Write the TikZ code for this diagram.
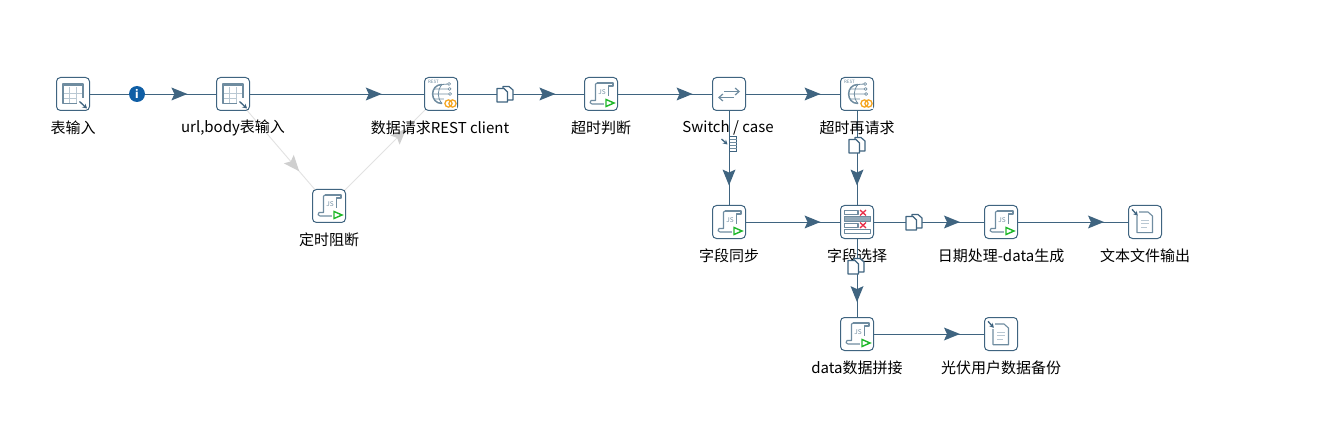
\documentclass[tikz,border=0pt]{standalone}
\usepackage{fontspec}
\setmainfont{Noto Sans CJK SC}
\usetikzlibrary{decorations.markings,arrows.meta}
\definecolor{hopc}{HTML}{3F6480}
\definecolor{iconc}{HTML}{6F8CA0}
\definecolor{gridc}{HTML}{B9C8D3}
\definecolor{greyhop}{HTML}{E2E2E2}
\definecolor{greyhead}{HTML}{CFCFCF}
\definecolor{infoc}{HTML}{0F5EA5}
\definecolor{jsgreen}{HTML}{1FB82A}
\definecolor{restorange}{HTML}{F5A623}
\definecolor{crossred}{HTML}{E8304A}
\pgfdeclarelayer{lines}
\pgfsetlayers{lines,main}
\tikzset{
  x=1pt,y=-1pt,
  stepbox/.style={draw=hopc,fill=white,line width=1pt,rounded corners=4pt,minimum size=33pt,inner sep=0pt,outer sep=0pt},
  steplabel/.style={font=\fontsize{15}{18}\selectfont,text=black,inner sep=0pt,anchor=center},
  hop/.style={draw=hopc,line width=.9pt,postaction={decorate,decoration={markings,mark=at position 0.715 with {\fill[hopc] (-16pt,-6.5pt)--(0pt,0pt)--(-16pt,6.5pt)--(-13pt,0pt)--cycle;}}}},
  offhop/.style={draw=greyhop,line width=.9pt,postaction={decorate,decoration={markings,mark=at position 0.69 with {\fill[greyhead] (-16pt,-6.5pt)--(0pt,0pt)--(-16pt,6.5pt)--(-13pt,0pt)--cycle;}}}},
  infobadge/.style={circle,fill=infoc,minimum size=16pt,inner sep=0pt,text=white,font=\fontsize{11}{11}\bfseries\selectfont},
  icl/.style={draw=iconc,line width=1.1pt,line join=round},
  smallarrow/.style={draw=hopc,line width=1.3pt,-{Stealth[length=4.5pt,width=5pt]}},
  tableicon/.pic={
    \fill[white] (-10,-10) rectangle (10,9.5);
    \draw[gridc,line width=.8pt] (-10,-1)--(10,-1) (-10,4)--(10,4) (-3.5,-7)--(-3.5,9.5) (3,-7)--(3,9.5);
    \draw[iconc,line width=2pt] (-9.5,-8.5)--(9.5,-8.5);
    \draw[icl] (-10,-10) rectangle (10,9.5);
    \fill[white] (4,4) rectangle (15,15.5);
    \draw[smallarrow] (6.5,7.5)--(14,14.5);
  },
  jsicon/.pic={
    \draw[icl,fill=white] (-4,-11)--(12,-11)--(12,-8)--(7.5,-8)--(7.5,2);
    \draw[icl] (-4,-11) .. controls (-6,-11) and (-5.5,-9) .. (-5.5,-8)--(-5.5,6.5)--(-10,6.5) .. controls (-11.5,7.5) and (-11.5,10) .. (-9,10)--(3,10);
    \node[text=iconc,font=\fontsize{6.5}{6.5}\selectfont,inner sep=0pt] at (1,-2) {JS};
    \fill[white] (3,3) rectangle (15,14);
    \draw[jsgreen,line width=1.4pt,line join=miter,fill=white] (5,5.5)--(13,9)--(5,12.5)--cycle;
  },
  resticon/.pic={
    \node[text=iconc,font=\fontsize{4.5}{4.5}\selectfont,inner sep=0pt] at (-7.5,-12) {REST};
    \draw[icl,line width=1.5pt] (1,-9.5) .. controls (-11.5,-9.5) and (-11.5,9.5) .. (1,9.5);
    \draw[icl,line width=.8pt] (1,-9.5) .. controls (-4,-4) and (-4,4) .. (1,9.5);
    \draw[icl,line width=.8pt] (-8,0)--(8,0) (-6,-5)--(7,-5) (-6,5)--(5,5) (1,-9.5)--(7,-10);
    \draw[icl,fill=white,line width=.7pt] (8,-10) circle (1.5) (8.5,-5) circle (1.5) (9,0) circle (1.5);
    \fill[white] (3,4) rectangle (15.5,15);
    \draw[restorange,line width=1.3pt] (7.5,9.5) circle (3.6) (11.5,9.5) circle (3.6);
  },
  switchicon/.pic={
    \draw[icl,line width=1.2pt,-{Straight Barb[length=4pt,width=7pt]}] (-5,-2.5)--(11,-2.5);
    \draw[icl,line width=1.2pt,-{Straight Barb[length=4pt,width=7pt]}] (5,3.5)--(-11,3.5);
  },
  selecticon/.pic={
    \draw[icl] (-12.7,-11.7) rectangle (1,-7.7);
    \draw[icl,fill=iconc!75] (-12.7,-5.7) rectangle (13.5,-0.7);
    \draw[icl] (-12.7,1.7) rectangle (1,5.7);
    \draw[icl] (-12.7,7.3) rectangle (13.5,11.7);
    \draw[crossred,line width=1.3pt] (3,-12)--(9,-6.5) (3,-6.5)--(9,-12) (3,0.5)--(9,6) (3,6)--(9,0.5);
  },
  fileicon/.pic={
    \draw[icl,fill=white] (-8,-10)--(3,-10)--(7.5,-6)--(7.5,10.7)--(-8,10.7)--cycle;
    \draw[gridc,line width=.8pt] (-4,-2)--(4,-2) (-4,1.5)--(4,1.5) (-4,5)--(2,5);
    \fill[white] (-14.5,-14) rectangle (-6.5,-5.5);
    \draw[smallarrow] (-13,-12.7)--(-7.2,-6.2);
  },
  copyicon/.pic={
    \draw[draw=hopc,fill=white,line width=1.2pt,line join=round] (-2,-7.5)--(4,-7.5)--(8,-4)--(8,6)--(-2,6)--cycle;
    \draw[draw=hopc,fill=white,line width=1.2pt,line join=round] (-8,-5.5)--(-1,-5.5)--(2.5,-2)--(2.5,8)--(-8,8)--cycle;
  },
  districon/.pic={
    \draw[draw=hopc,fill=white,line width=1pt] (-3.5,-7.5) rectangle (3.5,7.5);
    \draw[iconc,line width=.6pt] (-3.5,-4.5)--(3.5,-4.5) (-3.5,-1.5)--(3.5,-1.5) (-3.5,1.5)--(3.5,1.5) (-3.5,4.5)--(3.5,4.5);
    \draw[smallarrow] (-11.5,-5)--(-5.5,0.5);
  },
}
\begin{document}
\begin{tikzpicture}
\useasboundingbox (0,0) rectangle (1317,422);
% steps
\node[stepbox] (s1) at (73,94) {};
\node[stepbox] (s2) at (233,94) {};
\node[stepbox] (s3) at (441,94) {};
\node[stepbox] (s4) at (601,94) {};
\node[stepbox] (s5) at (729,94) {};
\node[stepbox] (s6) at (857,94) {};
\node[stepbox] (s7) at (329,206) {};
\node[stepbox] (s8) at (729,222) {};
\node[stepbox] (s9) at (857,222) {};
\node[stepbox] (s10) at (1001,222) {};
\node[stepbox] (s11) at (1145,222) {};
\node[stepbox] (s12) at (857,334) {};
\node[stepbox] (s13) at (1001,334) {};
% connectors
\begin{pgfonlayer}{lines}
\fill[white] (0,0) rectangle (1317,422);
\path[hop] (s1.center)--(s2.center);
\path[hop] (s2.center)--(s3.center);
\path[hop] (s3.center)--(s4.center);
\path[hop] (s4.center)--(s5.center);
\path[hop] (s5.center)--(s6.center);
\path[hop] (s5.center)--(s8.center);
\path[hop] (s6.center)--(s9.center);
\path[hop] (s8.center)--(s9.center);
\path[hop] (s9.center)--(s10.center);
\path[hop] (s10.center)--(s11.center);
\path[hop] (s9.center)--(s12.center);
\path[hop] (s12.center)--(s13.center);
\path[offhop] (s2.center)--(s7.center);
\path[offhop] (s7.center)--(s3.center);
\end{pgfonlayer}
% labels
\node[steplabel] (l1) at (73,128) {表输入};
\node[steplabel] (l2) at (233,128) {url,body表输入};
\node[steplabel] (l3) at (440,128) {数据请求REST client};
\node[steplabel] (l4) at (601,128) {超时判断};
\node[steplabel] (l5) at (728,128) {Switch / case};
\node[steplabel] (l6) at (857,128) {超时再请求};
\node[steplabel] (l7) at (329,240) {定时阻断};
\node[steplabel] (l8) at (729,256) {字段同步};
\node[steplabel] (l9) at (857,256) {字段选择};
\node[steplabel] (l10) at (1001,256) {日期处理-data生成};
\node[steplabel] (l11) at (1145,256) {文本文件输出};
\node[steplabel] (l12) at (857,368) {data数据拼接};
\node[steplabel] (l13) at (1001,368) {光伏用户数据备份};
% icons
\pic at (s1) {tableicon};
\pic at (s2) {tableicon};
\pic at (s3) {resticon};
\pic at (s4) {jsicon};
\pic at (s5) {switchicon};
\pic at (s6) {resticon};
\pic at (s7) {jsicon};
\pic at (s8) {jsicon};
\pic at (s9) {selecticon};
\pic at (s10) {jsicon};
\pic at (s11) {fileicon};
\pic at (s12) {jsicon};
\pic at (s13) {fileicon};
% hop badges
\node[infobadge] (info) at (137,94) {i};
\pic at (505,94) {copyicon};
\pic at (857,145) {copyicon};
\pic at (914,222) {copyicon};
\pic at (856,266) {copyicon};
\pic at (733,144) {districon};
\end{tikzpicture}
\end{document}
